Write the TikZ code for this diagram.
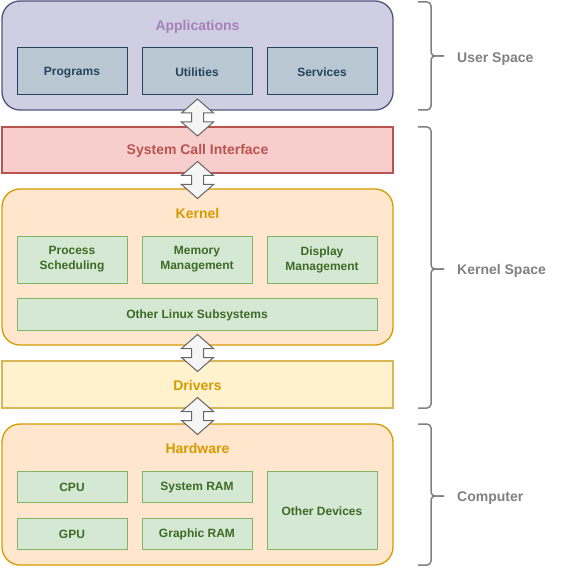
\documentclass[tikz,border=0pt]{standalone}
\usepackage{fontspec}
\setmainfont{Liberation Sans}
\usetikzlibrary{positioning,calc}

\definecolor{appfill}{HTML}{D0CEE2}
\definecolor{appline}{HTML}{56517E}
\definecolor{apptext}{HTML}{A680B8}
\definecolor{bluefill}{HTML}{BAC8D3}
\definecolor{blueline}{HTML}{23445D}
\definecolor{redfill}{HTML}{F8CECC}
\definecolor{redline}{HTML}{B85450}
\definecolor{orangefill}{HTML}{FFE6CC}
\definecolor{orangeline}{HTML}{D79B00}
\definecolor{yellowfill}{HTML}{FFF2CC}
\definecolor{yellowline}{HTML}{D6B656}
\definecolor{greenfill}{HTML}{D5E8D4}
\definecolor{greenline}{HTML}{82B366}
\definecolor{greentext}{HTML}{3D6B25}
\definecolor{arrfill}{HTML}{F5F5F5}
\definecolor{arrline}{HTML}{666666}
\definecolor{bracecol}{HTML}{808080}

% struts so that text sits like in the original
\newcommand{\partstrut}{\rule[-1pt]{0pt}{12.2pt}}
\newcommand{\layerstrut}{\rule[-3pt]{0pt}{15pt}}

\tikzset{
  layer/.style={draw, line width=1.3pt, minimum width=391pt, inner sep=0pt,
    font=\fontsize{14}{16}\selectfont\bfseries,
    execute at begin node=\layerstrut},
  group/.style={draw, line width=1.3pt, minimum width=391pt, rounded corners=18pt},
  title/.style={anchor=base, inner sep=0pt, font=\fontsize{14}{16}\selectfont\bfseries},
  part/.style={draw, line width=1pt, minimum width=110pt, minimum height=47pt,
    inner sep=0pt, align=center, font=\fontsize{12}{15}\selectfont\bfseries,
    execute at begin node=\partstrut, execute at end node=\partstrut},
  sub/.style={part, fill=greenfill, draw=greenline, text=greentext},
  app/.style={part, fill=bluefill, draw=blueline, text=blueline},
  arr/.style={draw=arrline, fill=arrfill, line width=1pt, line join=miter},
  brace/.style={draw=bracecol, line width=1.5pt, rounded corners=4pt},
  side/.style={anchor=base west, inner sep=0pt, text=bracecol,
    font=\fontsize{14}{16}\selectfont\bfseries}
}

% double block arrow around a centre point
\newcommand{\dblarrow}[1]{%
  \draw[arr] ($(#1)+(0,-18.5)$) -- ++(16,14) -- ++(-10,0) -- ++(0,9) -- ++(10,0)
    -- ++(-16,14) -- ++(-16,-14) -- ++(10,0) -- ++(0,-9) -- ++(-10,0) -- cycle;}

\begin{document}
\begin{tikzpicture}[x=1pt, y=-1pt]
    \useasboundingbox (0,0) rectangle (573,577);

    % Applications
    \node[group, fill=appfill, draw=appline, minimum height=109pt] (apps) at (197.5,55.5) {};
    \node[title, text=apptext] (appt) at (197.5,31) {Applications};
    \node[app] (prog) at (72,71.5) {Programs};
    \node[app, right=14pt of prog] (util) {Utilities};
    \node[app, right=14pt of util] (serv) {Services};

    % System call interface
    \node[layer, fill=redfill, draw=redline, text=redline, minimum height=46pt] (sci) at (197.5,150) {System Call Interface};

    % Kernel
    \node[group, fill=orangefill, draw=orangeline, minimum height=156pt] (kern) at (197.5,267) {};
    \node[title, text=orangeline] (kernt) at (197.5,218.5) {Kernel};
    \node[sub] (proc) at (72,259.5) {Process\\Scheduling};
    \node[sub, right=14pt of proc] (mem) {Memory\\Management};
    \node[sub, right=14pt of mem] (disp) {Display\\Management};
    \node[sub, minimum width=360pt, minimum height=32pt] (other) at (197,314) {Other Linux Subsystems};

    % Drivers
    \node[group, rounded corners=0pt, fill=yellowfill, draw=yellowline, minimum height=47pt] (drv) at (197.5,384.5) {};
    \node[title, text=orangeline] (drvt) at (197.5,390) {Drivers};

    % Hardware
    \node[group, fill=orangefill, draw=orangeline, minimum height=141pt] (hw) at (197.5,494.5) {};
    \node[title, text=orangeline] (hwt) at (197.5,453.3) {Hardware};
    \node[sub, minimum height=31pt] (cpu) at (72,486.5) {CPU};
    \node[sub, minimum height=31pt, right=14pt of cpu] (sram) {System RAM};
    \node[sub, minimum height=31pt] (gpu) at (72,533.5) {GPU};
    \node[sub, minimum height=31pt, right=14pt of gpu] (gram) {Graphic RAM};
    \node[sub, minimum height=78pt] (odev) at (322,510) {Other Devices};

    % Arrows between layers
    \coordinate (a1) at ($(apps.south)!0.5!(sci.north)+(0,-1)$);
    \coordinate (a2) at ($(sci.south)!0.5!(kern.north)+(0,-1)$);
    \coordinate (a3) at ($(kern.south)!0.5!(drv.north)$);
    \coordinate (a4) at ($(drv.south)!0.5!(hw.north)$);
    \dblarrow{a1}
    \dblarrow{a2}
    \dblarrow{a3}
    \dblarrow{a4}

    % Braces
    \draw[brace] (418,2) -| (431,56) -- (444,56);
    \draw[brace] (418,110) -| (431,56) -- (444,56);
    \node[side] (user) at (457,63) {User Space};

    \draw[brace] (418,127) -| (431,269) -- (444,269);
    \draw[brace] (418,408) -| (431,269) -- (444,269);
    \node[side] (kspace) at (457,274) {Kernel Space};

    \draw[brace] (418,424) -| (431,496) -- (444,496);
    \draw[brace] (418,565) -| (431,496) -- (444,496);
    \node[side] (comp) at (457,501) {Computer};

\end{tikzpicture}
\end{document}
